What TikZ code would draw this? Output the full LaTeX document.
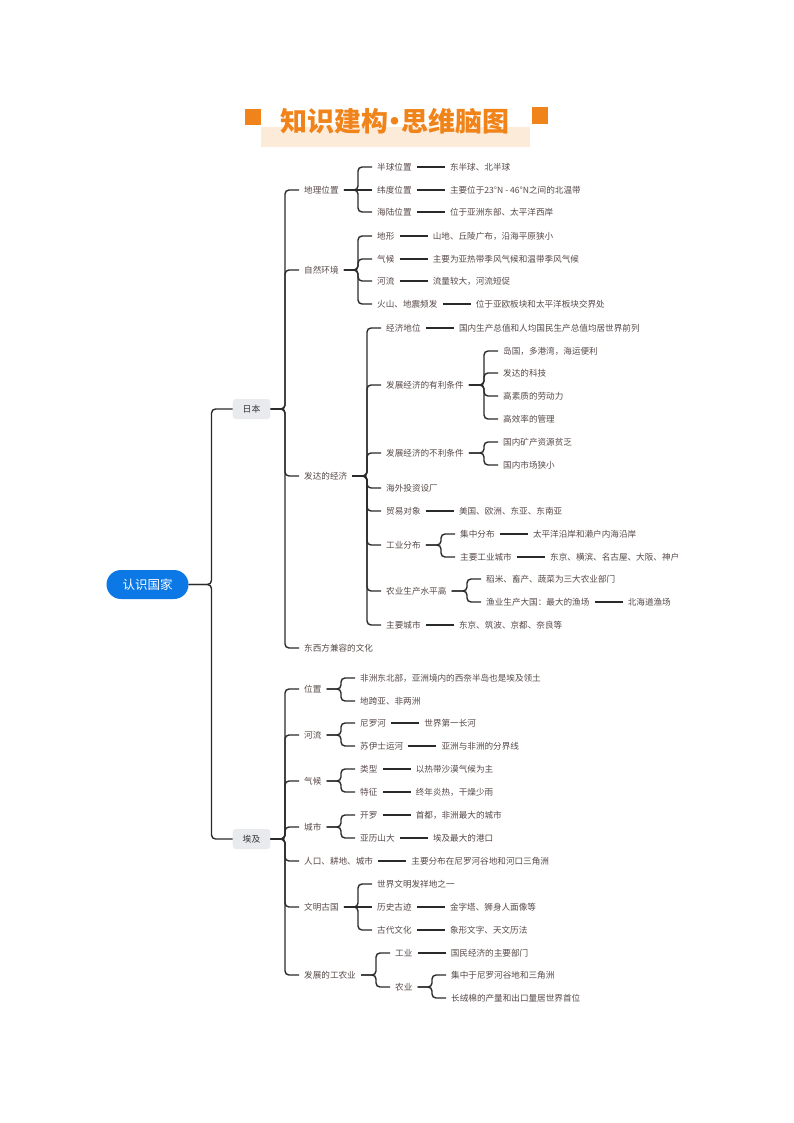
\documentclass[tikz,border=0pt]{standalone}
\usepackage{fontspec}
\setmainfont{Noto Sans CJK SC}
\usepackage{xcolor}
\usepackage{tikz}
\usetikzlibrary{positioning}

\definecolor{txt}{HTML}{574848}
\definecolor{linec}{HTML}{2A2A2A}
\definecolor{boxgray}{HTML}{E8EAED}
\definecolor{rootblue}{HTML}{0B78E6}
\definecolor{titleorange}{HTML}{F0841A}
\definecolor{peach}{HTML}{FDEBDA}

\begin{document}
\begin{tikzpicture}[x=1pt,y=-1pt,
    item/.style={anchor=west, inner xsep=5pt, inner ysep=2pt, text=txt, font=\fontsize{8.6pt}{10pt}\selectfont},
    topic/.style={fill=boxgray, rounded corners=3pt, inner xsep=10pt, minimum height=20pt, text=black!80, font=\fontsize{8.8pt}{10pt}\selectfont},
    link/.style={draw=linec, line width=1.4pt, rounded corners=4pt}]
\useasboundingbox (0,0) rectangle (794,1123);

% title
\fill[peach] (261,127) rectangle (530,147);
\fill[titleorange] (245,109) rectangle (261,125);
\fill[titleorange] (532,107) rectangle (548,124);
\node[text=titleorange, font=\fontsize{27pt}{30pt}\selectfont\bfseries] (title) at (395,121) {知识建构\hspace{-0.27em}·\hspace{-0.27em}思维脑图};

% root
\node[fill=rootblue, text=white, rounded corners=14.5pt, minimum width=82pt, minimum height=29pt, font=\fontsize{12.5pt}{14pt}\selectfont] (root) at (147.5,584.5) {认识国家};
\node[topic] (jp) at (251.5,409) {日本};
\node[topic] (eg) at (251.5,839) {埃及};
\draw[link] (root.east) -| ([xshift=-21pt]jp.west) -- (jp.west);
\draw[link] (root.east) -| ([xshift=-21pt]eg.west) -- (eg.west);

% 日本
\node[item] (dili) at (299,190) {地理位置};
\node[item] (ziran) at (299,270) {自然环境};
\node[item] (jingji) at (299,476) {发达的经济};
\node[item] (wenhua) at (299,648) {东西方兼容的文化};
\draw[link] (jp.east) -| ([xshift=-14pt]dili.west) -- (dili.west);
\draw[link] (jp.east) -| ([xshift=-14pt]ziran.west) -- (ziran.west);
\draw[link] (jp.east) -| ([xshift=-14pt]jingji.west) -- (jingji.west);
\draw[link] (jp.east) -| ([xshift=-14pt]wenhua.west) -- (wenhua.west);

% 地理位置
\node[item] (bqwz) at (372,167) {半球位置};
\node[item] (wdwz) at (372,190) {纬度位置};
\node[item] (hlwz) at (372,212) {海陆位置};
\node[item, right=28pt of bqwz] (bqwz1) {东半球、北半球};
\node[item, right=28pt of wdwz] (wdwz1) {主要位于23°N - 46°N之间的北温带};
\node[item, right=28pt of hlwz] (hlwz1) {位于亚洲东部、太平洋西岸};
\draw[link] (dili.east) -| ([xshift=-14pt]bqwz.west) -- (bqwz.west);
\draw[link] (dili) -- (wdwz);
\draw[link] (dili.east) -| ([xshift=-14pt]hlwz.west) -- (hlwz.west);
\draw[link] (bqwz) -- (bqwz1);
\draw[link] (wdwz) -- (wdwz1);
\draw[link] (hlwz) -- (hlwz1);

% 自然环境
\node[item] (dixing) at (372,236) {地形};
\node[item] (qihou) at (372,259) {气候};
\node[item] (heliu) at (372,281) {河流};
\node[item] (huoshan) at (372,304) {火山、地震频发};
\node[item, right=28pt of dixing] (dixing1) {山地、丘陵广布，沿海平原狭小};
\node[item, right=28pt of qihou] (qihou1) {主要为亚热带季风气候和温带季风气候};
\node[item, right=28pt of heliu] (heliu1) {流量较大，河流短促};
\node[item, right=28pt of huoshan] (huoshan1) {位于亚欧板块和太平洋板块交界处};
\draw[link] (ziran.east) -| ([xshift=-14pt]dixing.west) -- (dixing.west);
\draw[link] (ziran.east) -| ([xshift=-14pt]qihou.west) -- (qihou.west);
\draw[link] (ziran.east) -| ([xshift=-14pt]heliu.west) -- (heliu.west);
\draw[link] (ziran.east) -| ([xshift=-14pt]huoshan.west) -- (huoshan.west);
\draw[link] (dixing) -- (dixing1);
\draw[link] (qihou) -- (qihou1);
\draw[link] (heliu) -- (heliu1);
\draw[link] (huoshan) -- (huoshan1);

% 发达的经济
\node[item] (jjdw) at (381,328) {经济地位};
\node[item] (youli) at (381,385) {发展经济的有利条件};
\node[item] (buli) at (381,453) {发展经济的不利条件};
\node[item] (haiwai) at (381,488) {海外投资设厂};
\node[item] (maoyi) at (381,511) {贸易对象};
\node[item] (gongye) at (381,545) {工业分布};
\node[item] (nongye) at (381,591) {农业生产水平高};
\node[item] (zycs) at (381,625) {主要城市};
\draw[link] (jingji.east) -| ([xshift=-14pt]jjdw.west) -- (jjdw.west);
\draw[link] (jingji.east) -| ([xshift=-14pt]youli.west) -- (youli.west);
\draw[link] (jingji.east) -| ([xshift=-14pt]buli.west) -- (buli.west);
\draw[link] (jingji.east) -| ([xshift=-14pt]haiwai.west) -- (haiwai.west);
\draw[link] (jingji.east) -| ([xshift=-14pt]maoyi.west) -- (maoyi.west);
\draw[link] (jingji.east) -| ([xshift=-14pt]gongye.west) -- (gongye.west);
\draw[link] (jingji.east) -| ([xshift=-14pt]nongye.west) -- (nongye.west);
\draw[link] (jingji.east) -| ([xshift=-14pt]zycs.west) -- (zycs.west);
\node[item, right=28pt of jjdw] (jjdw1) {国内生产总值和人均国民生产总值均居世界前列};
\node[item, right=28pt of maoyi] (maoyi1) {美国、欧洲、东亚、东南亚};
\node[item, right=28pt of zycs] (zycs1) {东京、筑波、京都、奈良等};
\draw[link] (jjdw) -- (jjdw1);
\draw[link] (maoyi) -- (maoyi1);
\draw[link] (zycs) -- (zycs1);

\node[item] (yl1) at (498,351) {岛国，多港湾，海运便利};
\node[item] (yl2) at (498,373) {发达的科技};
\node[item] (yl3) at (498,396) {高素质的劳动力};
\node[item] (yl4) at (498,419) {高效率的管理};
\draw[link] (youli.east) -| ([xshift=-14pt]yl1.west) -- (yl1.west);
\draw[link] (youli.east) -| ([xshift=-14pt]yl2.west) -- (yl2.west);
\draw[link] (youli.east) -| ([xshift=-14pt]yl3.west) -- (yl3.west);
\draw[link] (youli.east) -| ([xshift=-14pt]yl4.west) -- (yl4.west);

\node[item] (bl1) at (498,442) {国内矿产资源贫乏};
\node[item] (bl2) at (498,465) {国内市场狭小};
\draw[link] (buli.east) -| ([xshift=-14pt]bl1.west) -- (bl1.west);
\draw[link] (buli.east) -| ([xshift=-14pt]bl2.west) -- (bl2.west);

\node[item] (jzfb) at (455,534) {集中分布};
\node[item] (gycs) at (455,557) {主要工业城市};
\node[item, right=28pt of jzfb] (jzfb1) {太平洋沿岸和濑户内海沿岸};
\node[item, right=28pt of gycs] (gycs1) {东京、横滨、名古屋、大阪、神户};
\draw[link] (gongye.east) -| ([xshift=-14pt]jzfb.west) -- (jzfb.west);
\draw[link] (gongye.east) -| ([xshift=-14pt]gycs.west) -- (gycs.west);
\draw[link] (jzfb) -- (jzfb1);
\draw[link] (gycs) -- (gycs1);

\node[item] (ny1) at (481,579) {稻米、畜产、蔬菜为三大农业部门};
\node[item] (ny2) at (481,602) {渔业生产大国：最大的渔场};
\node[item, right=28pt of ny2] (ny3) {北海道渔场};
\draw[link] (nongye.east) -| ([xshift=-14pt]ny1.west) -- (ny1.west);
\draw[link] (nongye.east) -| ([xshift=-14pt]ny2.west) -- (ny2.west);
\draw[link] (ny2) -- (ny3);

% 埃及
\node[item] (ejwz) at (299,689) {位置};
\node[item] (ejhl) at (299,735) {河流};
\node[item] (ejqh) at (299,781) {气候};
\node[item] (ejcs) at (299,827) {城市};
\node[item] (rkgd) at (299,861) {人口、耕地、城市};
\node[item] (wmgg) at (299,907) {文明古国};
\node[item] (gny) at (299,975) {发展的工农业};
\draw[link] (eg.east) -| ([xshift=-14pt]ejwz.west) -- (ejwz.west);
\draw[link] (eg.east) -| ([xshift=-14pt]ejhl.west) -- (ejhl.west);
\draw[link] (eg.east) -| ([xshift=-14pt]ejqh.west) -- (ejqh.west);
\draw[link] (eg.east) -| ([xshift=-14pt]ejcs.west) -- (ejcs.west);
\draw[link] (eg.east) -| ([xshift=-14pt]rkgd.west) -- (rkgd.west);
\draw[link] (eg.east) -| ([xshift=-14pt]wmgg.west) -- (wmgg.west);
\draw[link] (eg.east) -| ([xshift=-14pt]gny.west) -- (gny.west);
\node[item, right=28pt of rkgd] (rkgd1) {主要分布在尼罗河谷地和河口三角洲};
\draw[link] (rkgd) -- (rkgd1);

\node[item] (wz1) at (355,678) {非洲东北部，亚洲境内的西奈半岛也是埃及领土};
\node[item] (wz2) at (355,701) {地跨亚、非两洲};
\draw[link] (ejwz.east) -| ([xshift=-14pt]wz1.west) -- (wz1.west);
\draw[link] (ejwz.east) -| ([xshift=-14pt]wz2.west) -- (wz2.west);

\node[item] (nlh) at (355,723) {尼罗河};
\node[item] (ysys) at (355,746) {苏伊士运河};
\node[item, right=28pt of nlh] (nlh1) {世界第一长河};
\node[item, right=28pt of ysys] (ysys1) {亚洲与非洲的分界线};
\draw[link] (ejhl.east) -| ([xshift=-14pt]nlh.west) -- (nlh.west);
\draw[link] (ejhl.east) -| ([xshift=-14pt]ysys.west) -- (ysys.west);
\draw[link] (nlh) -- (nlh1);
\draw[link] (ysys) -- (ysys1);

\node[item] (lx) at (355,769) {类型};
\node[item] (tz) at (355,792) {特征};
\node[item, right=28pt of lx] (lx1) {以热带沙漠气候为主};
\node[item, right=28pt of tz] (tz1) {终年炎热，干燥少雨};
\draw[link] (ejqh.east) -| ([xshift=-14pt]lx.west) -- (lx.west);
\draw[link] (ejqh.east) -| ([xshift=-14pt]tz.west) -- (tz.west);
\draw[link] (lx) -- (lx1);
\draw[link] (tz) -- (tz1);

\node[item] (kl) at (355,815) {开罗};
\node[item] (ylsd) at (355,838) {亚历山大};
\node[item, right=28pt of kl] (kl1) {首都，非洲最大的城市};
\node[item, right=28pt of ylsd] (ylsd1) {埃及最大的港口};
\draw[link] (ejcs.east) -| ([xshift=-14pt]kl.west) -- (kl.west);
\draw[link] (ejcs.east) -| ([xshift=-14pt]ylsd.west) -- (ylsd.west);
\draw[link] (kl) -- (kl1);
\draw[link] (ylsd) -- (ylsd1);

\node[item] (wm1) at (372,884) {世界文明发祥地之一};
\node[item] (lsgj) at (372,907) {历史古迹};
\node[item] (gdwh) at (372,930) {古代文化};
\node[item, right=28pt of lsgj] (lsgj1) {金字塔、狮身人面像等};
\node[item, right=28pt of gdwh] (gdwh1) {象形文字、天文历法};
\draw[link] (wmgg.east) -| ([xshift=-14pt]wm1.west) -- (wm1.west);
\draw[link] (wmgg) -- (lsgj);
\draw[link] (wmgg.east) -| ([xshift=-14pt]gdwh.west) -- (gdwh.west);
\draw[link] (lsgj) -- (lsgj1);
\draw[link] (gdwh) -- (gdwh1);

\node[item] (ejgy) at (390,953) {工业};
\node[item] (ejny) at (390,987) {农业};
\node[item, right=28pt of ejgy] (ejgy1) {国民经济的主要部门};
\draw[link] (gny.east) -| ([xshift=-14pt]ejgy.west) -- (ejgy.west);
\draw[link] (gny.east) -| ([xshift=-14pt]ejny.west) -- (ejny.west);
\draw[link] (ejgy) -- (ejgy1);

\node[item] (nya) at (446,975) {集中于尼罗河谷地和三角洲};
\node[item] (nyb) at (446,998) {长绒棉的产量和出口量居世界首位};
\draw[link] (ejny.east) -| ([xshift=-14pt]nya.west) -- (nya.west);
\draw[link] (ejny.east) -| ([xshift=-14pt]nyb.west) -- (nyb.west);
\end{tikzpicture}
\end{document}
